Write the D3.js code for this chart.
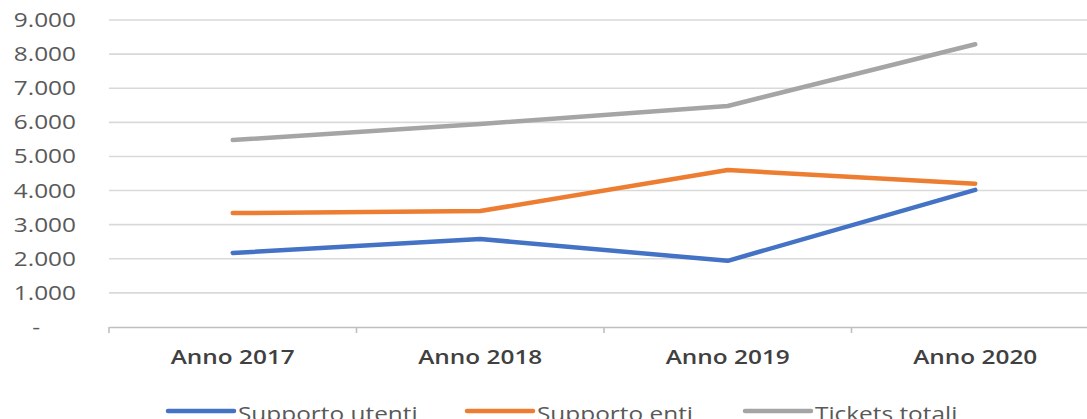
<!DOCTYPE html>
<html>
<head>
<meta charset="utf-8">
<script src="https://cdn.jsdelivr.net/npm/d3@7/dist/d3.min.js"></script>
<style>
  html, body { margin: 0; padding: 0; background: #fff; }
  svg { display: block; }
  text { font-family: "Open Sans", "Noto Sans", sans-serif; }
</style>
</head>
<body>
<svg id="chart" width="1087" height="419"></svg>
<script>
// Ticket counts per year
const categories = ["Anno 2017", "Anno 2018", "Anno 2019", "Anno 2020"];
const supportoUtenti = [2170, 2580, 1940, 4020];
const supportoEnti = [3340, 3400, 4600, 4200];
const ticketsTotali = [5480, 5950, 6480, 8290];
const yTicks = [0, 1000, 2000, 3000, 4000, 5000, 6000, 7000, 8000, 9000];

const series = [
  { name: "Supporto utenti", values: supportoUtenti, color: "#4472C4" },
  { name: "Supporto enti", values: supportoEnti, color: "#ED7D31" },
  { name: "Tickets totali", values: ticketsTotali, color: "#A5A5A5" }
];

const svg = d3.select("#chart");
const stretch = 1.22; // wide glyphs

const x = d3.scaleBand().domain(categories).range([109, 1099]);
const y = d3.scaleLinear().domain([0, 9000]).range([327, 20]);

const fmt = v => v === 0 ? "-" : d3.format(",")(v).replace(/,/g, ".");

// gridlines
svg.append("g")
  .selectAll("line")
  .data(yTicks.filter(d => d > 0))
  .join("line")
  .attr("x1", 109).attr("x2", 1087)
  .attr("y1", d => y(d)).attr("y2", d => y(d))
  .attr("stroke", "#d9d9d9").attr("stroke-width", 1.6);

// y labels
svg.append("g")
  .selectAll("text")
  .data(yTicks)
  .join("text")
  .attr("transform", d => d === 0
    ? `translate(40,${y(d) + 7}) scale(${stretch},1)`
    : `translate(76,${y(d) + 7}) scale(${stretch},1)`)
  .attr("text-anchor", "end")
  .attr("font-size", 20)
  .attr("fill", "#595959")
  .text(fmt);

// x axis
const xAxis = svg.append("g")
  .attr("transform", `translate(0,${y(0)})`)
  .call(d3.axisBottom(x).tickSize(0).tickFormat(""));
xAxis.select(".domain").attr("stroke", "#bfbfbf").attr("stroke-width", 1.6);
xAxis.selectAll(".tick").remove();

const boundaries = categories.map(c => x(c)).concat([x.range()[1]]);
xAxis.selectAll("line.sep")
  .data(boundaries)
  .join("line")
  .attr("class", "sep")
  .attr("x1", d => d).attr("x2", d => d)
  .attr("y1", 0).attr("y2", 6)
  .attr("stroke", "#bfbfbf").attr("stroke-width", 1.6);

svg.append("g")
  .selectAll("text")
  .data(categories)
  .join("text")
  .attr("transform", d => `translate(${x(d) + x.bandwidth() / 2},${y(0) + 37}) scale(${stretch},1)`)
  .attr("text-anchor", "middle")
  .attr("font-size", 20)
  .attr("font-weight", 600)
  .attr("fill", "#404040")
  .text(d => d);

// lines
const line = d3.line()
  .x((d, i) => x(categories[i]) + x.bandwidth() / 2)
  .y(d => y(d));

svg.append("g")
  .selectAll("path")
  .data(series)
  .join("path")
  .attr("d", s => line(s.values))
  .attr("fill", "none")
  .attr("stroke", s => s.color)
  .attr("stroke-width", 4.5)
  .attr("stroke-linecap", "round")
  .attr("stroke-linejoin", "round");

// legend
const legendX = [168, 467, 745];
const legend = svg.append("g")
  .selectAll("g")
  .data(series)
  .join("g")
  .attr("transform", (s, i) => `translate(${legendX[i]},411)`);
legend.append("line")
  .attr("x1", 0).attr("x2", 66)
  .attr("stroke", s => s.color)
  .attr("stroke-width", 4.5)
  .attr("stroke-linecap", "round");
legend.append("text")
  .attr("transform", `translate(70,10) scale(${stretch},1)`)
  .attr("font-size", 20)
  .attr("fill", "#595959")
  .text(s => s.name);
</script>
</body>
</html>
